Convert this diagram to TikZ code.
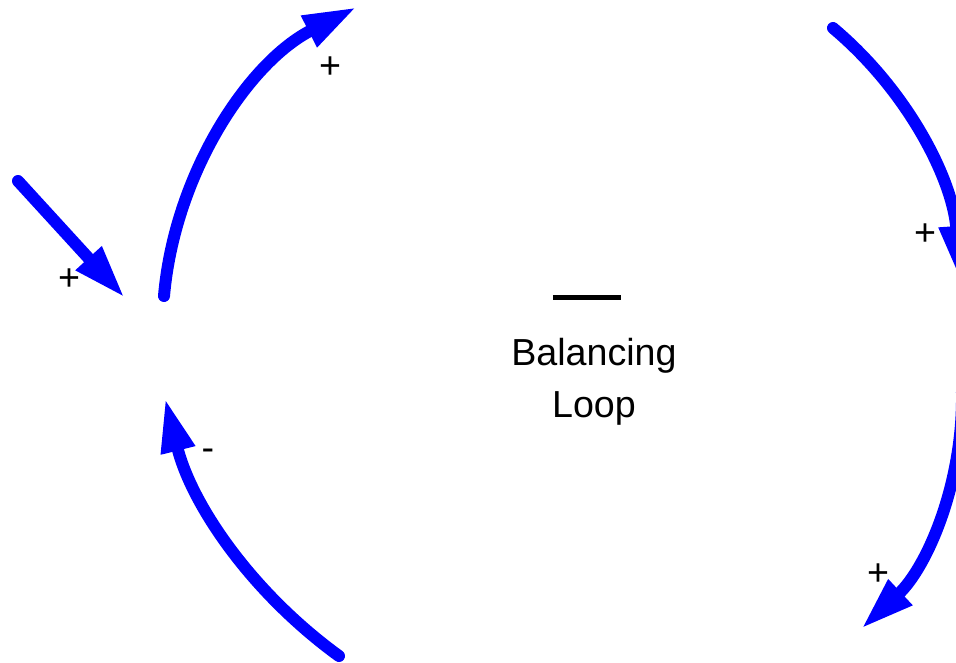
\documentclass[tikz,border=0pt]{standalone}
\usepackage{fontspec}
\setmainfont{Liberation Sans}
\usepackage{tikz}
\usetikzlibrary{arrows.meta}

\begin{document}
\begin{tikzpicture}[x=0.01cm, y=0.01cm,
          % Stile dei collegamenti causali
          collegamento/.style={
              draw=blue,
              line width=1.2mm,
              line cap=round,
              -{Triangle[length=5.4mm, width=3.2mm]},
              looseness=0.9
          },
          % Stile per i segni e le scritte
          segno/.style={
              font=\fontsize{10.7pt}{14.8pt}\selectfont,
              inner sep=0pt
          }
      ]

          \useasboundingbox (0,0) rectangle (956,-663);
          \clip (0,0) rectangle (956,-663);

          % 1. Punti di aggancio dei collegamenti
          \coordinate (esterno) at (18,-181);
          \coordinate (sinIn) at (125,-298);
          \coordinate (sinOut) at (164,-296);
          \coordinate (sinRitorno) at (165,-398);
          \coordinate (altoIn) at (357,-7);
          \coordinate (altoOut) at (833,-28);
          \coordinate (destraIn) at (960,-280);
          \coordinate (destraOut) at (962,-392);
          \coordinate (bassoIn) at (861,-629);
          \coordinate (bassoOut) at (339,-656);

          % 2. Collegamenti causali
          \draw [collegamento] (esterno) -- (sinIn);
          \draw [collegamento] (sinOut) to[out=85, in=207] (altoIn);
          \draw [collegamento] (altoOut) to[out=-40, in=94] (destraIn);
          \draw [collegamento] (destraOut) to[out=-89, in=43] (bassoIn);
          \draw [collegamento] (bassoOut) to[out=144, in=-76] (sinRitorno);

          % 3. Polarita' dei collegamenti
          \node [segno] (polEsterno) at (69,-280) {+};
          \node [segno] (polAlto) at (330,-68) {+};
          \node [segno] (polDestra) at (925,-235) {+};
          \node [segno] (polBasso) at (878,-575) {+};
          \node [segno] (polRitorno) at (208,-455) {-};

          % 4. Simbolo e nome dell'anello
          \node [inner sep=0pt] (segnoAnello) at (587,-297) {\rule{6.8mm}{0.5mm}};
          \node [segno, align=center] (nomeAnello) at (594,-382) {Balancing\\Loop};

      \end{tikzpicture}
\end{document}
